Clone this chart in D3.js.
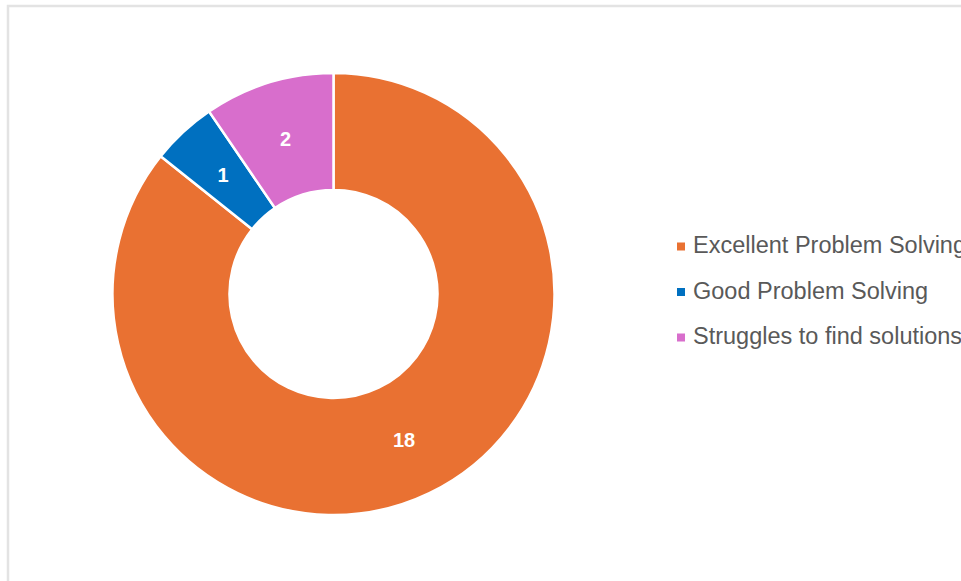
<!DOCTYPE html>
<html>
<head>
<meta charset="utf-8">
<script src="https://cdn.jsdelivr.net/npm/d3@7"></script>
<style>
  html, body { margin: 0; padding: 0; background: #fff; overflow: hidden; }
  svg { display: block; }
</style>
</head>
<body>
<svg id="chart" width="961" height="581"></svg>
<script>
// Problem-solving ratings
const categories = ["Excellent Problem Solving", "Good Problem Solving", "Struggles to find solutions"];
const counts = [18, 1, 2];
const colors = ["#E97132", "#0070C0", "#D86ECC"];

const svg = d3.select("#chart");
const W = 961, H = 581;

// light frame around the chart area
svg.append("rect")
  .attr("x", 8).attr("y", 6)
  .attr("width", W + 20).attr("height", H + 20)
  .attr("fill", "#fff")
  .attr("stroke", "#e3e3e3")
  .attr("stroke-width", 2.5);

const cx = 333.5, cy = 294, rOuter = 221, rInner = 104;

const data = categories.map((c, i) => ({ name: c, value: counts[i], color: colors[i] }));

const pie = d3.pie().value(d => d.value).sort(null);
const arc = d3.arc().innerRadius(rInner).outerRadius(rOuter);
const labelArc = d3.arc().innerRadius((rInner + rOuter) / 2).outerRadius((rInner + rOuter) / 2);

const g = svg.append("g").attr("transform", `translate(${cx},${cy})`);
const arcs = pie(data);

g.selectAll("path.slice")
  .data(arcs)
  .join("path")
  .attr("class", "slice")
  .attr("d", arc)
  .attr("fill", d => d.data.color)
  .attr("stroke", "#fff")
  .attr("stroke-width", 2.5)
  .attr("stroke-linejoin", "miter");

g.selectAll("text.val")
  .data(arcs)
  .join("text")
  .attr("class", "val")
  .attr("transform", d => `translate(${labelArc.centroid(d)})`)
  .attr("text-anchor", "middle")
  .attr("dominant-baseline", "central")
  .attr("font-family", "Liberation Sans, Arial, sans-serif")
  .attr("font-weight", "bold")
  .attr("font-size", 20)
  .attr("fill", "#fff")
  .text(d => d.data.value);

// legend
const legend = svg.append("g").attr("transform", "translate(677,245)");
const rowH = 45.5;
const rows = legend.selectAll("g.row")
  .data(data)
  .join("g")
  .attr("class", "row")
  .attr("transform", (d, i) => `translate(0,${i * rowH})`);

rows.append("rect")
  .attr("x", 0).attr("y", -2.5)
  .attr("width", 8).attr("height", 8)
  .attr("fill", d => d.color);

rows.append("text")
  .attr("x", 16).attr("y", 0)
  .attr("dominant-baseline", "central")
  .attr("font-family", "Liberation Sans, Arial, sans-serif")
  .attr("font-size", 23.5)
  .attr("fill", "#595959")
  .text(d => d.name);
</script>
</body>
</html>
